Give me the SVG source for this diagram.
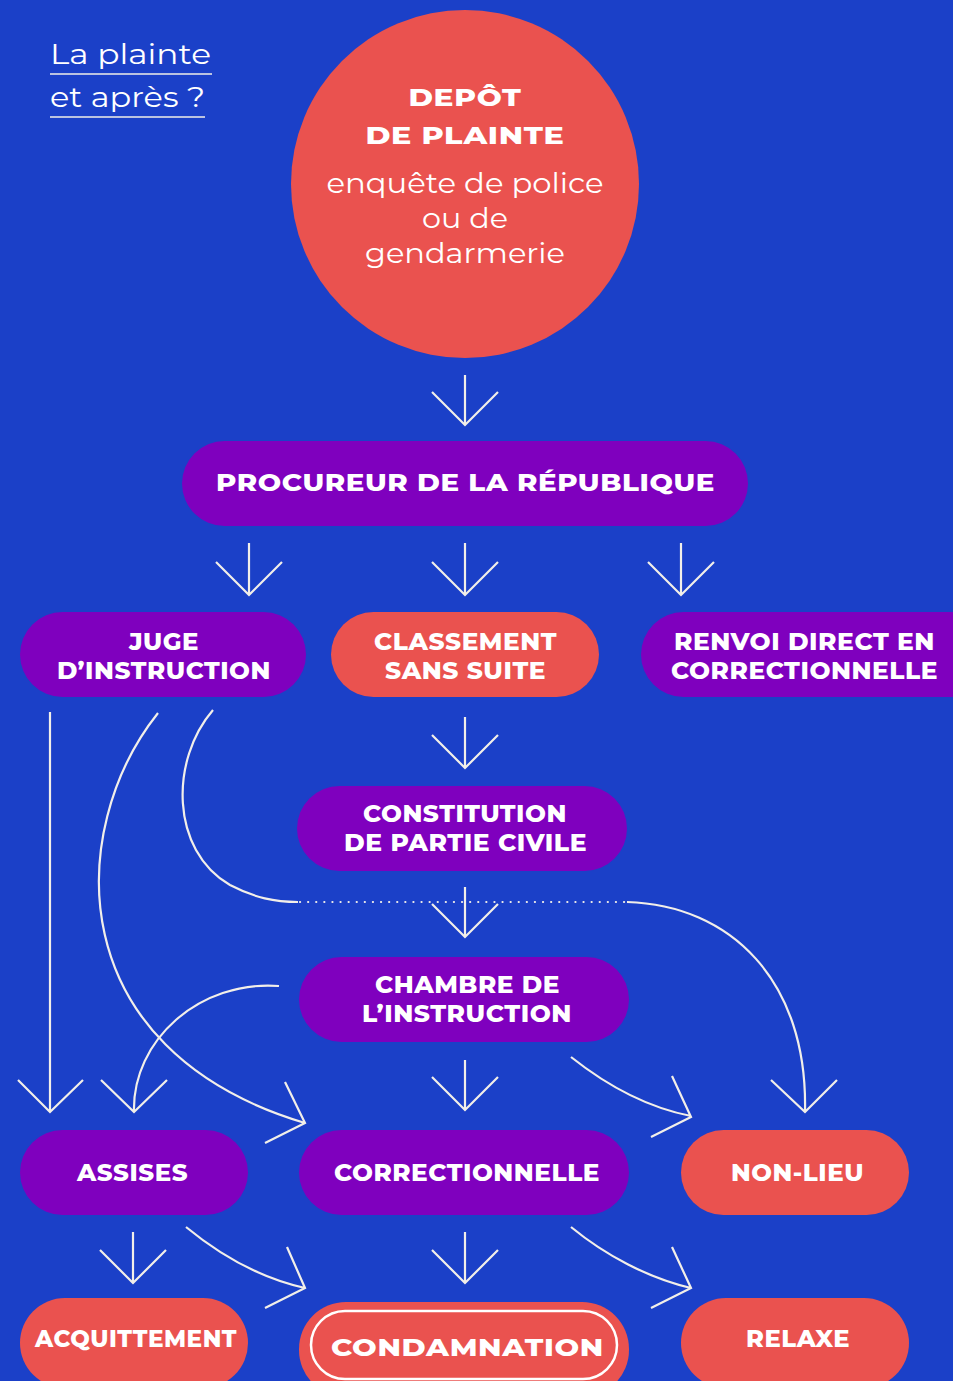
<svg xmlns="http://www.w3.org/2000/svg" width="953" height="1381" viewBox="0 0 953 1381">
<style>
.b{font-family:"Montserrat","DejaVu Sans","Liberation Sans",sans-serif;font-weight:800;fill:#ffffff;text-anchor:middle;font-size:23px;letter-spacing:0.5px}
.l{font-family:"Montserrat","Open Sans","Liberation Sans",sans-serif;font-weight:normal;fill:#ffffff;font-size:28px}
.red{fill:#ea524f}
.pur{fill:#7f00be}
.ln{fill:none;stroke:#f2efe9;stroke-width:2.2;stroke-linecap:butt;stroke-linejoin:miter}
</style>
<rect x="0" y="0" width="953" height="1381" fill="#1b40c8"/>
<g id="title">
<text class="l" x="50" y="64" textLength="161" lengthAdjust="spacingAndGlyphs">La plainte</text>
<line x1="50" y1="74" x2="212" y2="74" stroke="#f2efe9" stroke-width="1.5"/>
<text class="l" x="50" y="107" textLength="155" lengthAdjust="spacingAndGlyphs">et après ?</text>
<line x1="50" y1="117" x2="205" y2="117" stroke="#f2efe9" stroke-width="1.5"/>
</g>
<g id="connectors">
<path class="ln" d="M465,375 V425 M432,392 L465,425 L498,392"/>
<path class="ln" d="M249,543 V595 M216,562 L249,595 L282,562"/>
<path class="ln" d="M465,543 V595 M432,562 L465,595 L498,562"/>
<path class="ln" d="M681,543 V595 M648,562 L681,595 L714,562"/>
<path class="ln" d="M465,717 V768 M432,735 L465,768 L498,735"/>
<path class="ln" d="M465,887 V937 M432,904 L465,937 L498,904"/>
<line x1="300" y1="902" x2="626" y2="902" stroke="#f2efe9" stroke-width="2.2" stroke-dasharray="0.1,8" stroke-linecap="round"/>
<path class="ln" d="M213,710 C170,760 170,850 230,885 C255,898 275,902 298,902"/>
<path class="ln" d="M627,902 C730,905 808,980 805,1112 M771,1080 L805,1112 L837,1080"/>
<path class="ln" d="M50,712 V1112 M18,1080 L50,1112 L83,1080"/>
<path class="ln" d="M158,713 C65,830 60,1050 305,1123 M285,1082 L305,1123 L265,1143"/>
<path class="ln" d="M279,986 C200,980 132,1040 134,1112 M101,1080 L134,1112 L167,1080"/>
<path class="ln" d="M465,1060 V1110 M432,1077 L465,1110 L498,1077"/>
<path class="ln" d="M571,1057 C610,1088 650,1108 691,1116 M672,1076 L691,1117 L651,1137"/>
<path class="ln" d="M133,1232 V1283 M100,1250 L133,1283 L166,1250"/>
<path class="ln" d="M186,1227 C220,1255 260,1278 305,1288 M287,1247 L305,1288 L265,1308"/>
<path class="ln" d="M465,1232 V1283 M432,1250 L465,1283 L498,1250"/>
<path class="ln" d="M571,1227 C605,1255 648,1278 691,1288 M672,1247 L691,1288 L651,1308"/>
</g>
<g id="depot">
<circle class="red" cx="465" cy="184" r="174"/>
<text class="b" x="465" y="106" font-size="27" textLength="113" lengthAdjust="spacingAndGlyphs">DEPÔT</text>
<text class="b" x="465" y="144" font-size="27" textLength="199" lengthAdjust="spacingAndGlyphs">DE PLAINTE</text>
<text class="l" x="465" y="193" text-anchor="middle" textLength="277" lengthAdjust="spacingAndGlyphs">enquête de police</text>
<text class="l" x="465" y="228" text-anchor="middle" textLength="86" lengthAdjust="spacingAndGlyphs">ou de</text>
<text class="l" x="465" y="263" text-anchor="middle" textLength="200" lengthAdjust="spacingAndGlyphs">gendarmerie</text>
</g>
<g id="procureur">
<rect class="pur" x="182" y="441" width="566" height="85" rx="42.5"/>
<text class="b" x="465.5" y="491" font-size="25" textLength="499" lengthAdjust="spacingAndGlyphs">PROCUREUR DE LA RÉPUBLIQUE</text>
</g>
<g id="juge">
<rect class="pur" x="20" y="612" width="286" height="85" rx="42.5"/>
<text class="b" x="164" y="650" textLength="70" lengthAdjust="spacingAndGlyphs">JUGE</text>
<text class="b" x="164" y="679" textLength="214" lengthAdjust="spacingAndGlyphs">D’INSTRUCTION</text>
</g>
<g id="classement">
<rect class="red" x="331" y="612" width="268" height="85" rx="42.5"/>
<text class="b" x="465.5" y="650" textLength="183" lengthAdjust="spacingAndGlyphs">CLASSEMENT</text>
<text class="b" x="465.5" y="679" textLength="161" lengthAdjust="spacingAndGlyphs">SANS SUITE</text>
</g>
<g id="renvoi">
<rect class="pur" x="641" y="612" width="360" height="85" rx="42.5"/>
<text class="b" x="804.5" y="650" textLength="261" lengthAdjust="spacingAndGlyphs">RENVOI DIRECT EN</text>
<text class="b" x="804.5" y="679" textLength="267" lengthAdjust="spacingAndGlyphs">CORRECTIONNELLE</text>
</g>
<g id="constitution">
<rect class="pur" x="297" y="786" width="330" height="85" rx="42.5"/>
<text class="b" x="465" y="822" textLength="204" lengthAdjust="spacingAndGlyphs">CONSTITUTION</text>
<text class="b" x="465.5" y="851" textLength="243" lengthAdjust="spacingAndGlyphs">DE PARTIE CIVILE</text>
</g>
<g id="chambre">
<rect class="pur" x="299" y="957" width="330" height="85" rx="42.5"/>
<text class="b" x="467.5" y="993" textLength="185" lengthAdjust="spacingAndGlyphs">CHAMBRE DE</text>
<text class="b" x="467" y="1022" textLength="210" lengthAdjust="spacingAndGlyphs">L’INSTRUCTION</text>
</g>
<g id="assises">
<rect class="pur" x="20" y="1130" width="228" height="85" rx="42.5"/>
<text class="b" x="132.5" y="1181" textLength="111" lengthAdjust="spacingAndGlyphs">ASSISES</text>
</g>
<g id="correctionnelle">
<rect class="pur" x="299" y="1130" width="330" height="85" rx="42.5"/>
<text class="b" x="467" y="1181" textLength="266" lengthAdjust="spacingAndGlyphs">CORRECTIONNELLE</text>
</g>
<g id="nonlieu">
<rect class="red" x="681" y="1130" width="228" height="85" rx="42.5"/>
<text class="b" x="797.5" y="1181" textLength="133" lengthAdjust="spacingAndGlyphs">NON-LIEU</text>
</g>
<g id="acquittement">
<rect class="red" x="20" y="1298" width="228" height="90" rx="45"/>
<text class="b" x="136" y="1347" textLength="202" lengthAdjust="spacingAndGlyphs">ACQUITTEMENT</text>
</g>
<g id="condamnation">
<rect class="red" x="299" y="1302" width="330" height="95" rx="47"/>
<rect x="311" y="1311" width="306" height="68" rx="34" fill="none" stroke="#ffffff" stroke-width="2.5"/>
<text class="b" x="467.5" y="1356" font-size="30" textLength="273" lengthAdjust="spacingAndGlyphs">CONDAMNATION</text>
</g>
<g id="relaxe">
<rect class="red" x="681" y="1298" width="228" height="90" rx="45"/>
<text class="b" x="798" y="1347" textLength="104" lengthAdjust="spacingAndGlyphs">RELAXE</text>
</g>
</svg>
